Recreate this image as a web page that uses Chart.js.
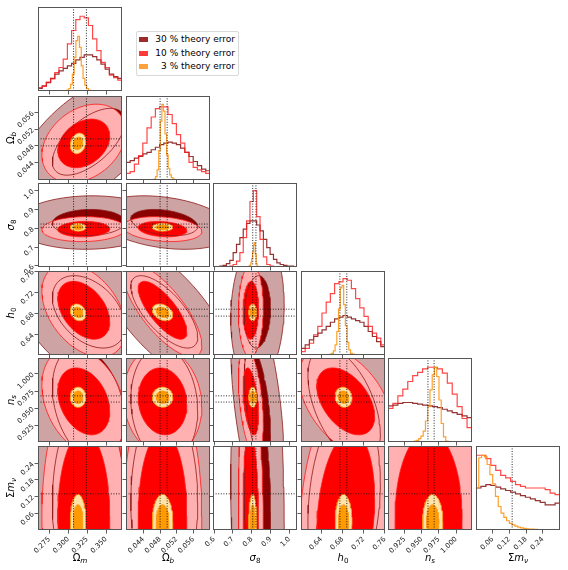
<!DOCTYPE html>
<html lang="en">
<head>
  <meta charset="UTF-8">
  <title>corner plot - chart.js</title>
  <script src="https://cdn.jsdelivr.net/npm/chart.js@4.4.1/dist/chart.umd.min.js"></script>
  <style>
    body { margin: 0; background: #fff; }
    #fig { position: relative; width: 568px; height: 570px; overflow: hidden; font-family: "DejaVu Sans", sans-serif; }
    #fig canvas { position: absolute; }
    .lab { position: absolute; font-size: 10px; color: #000; white-space: nowrap; transform: translate(-50%, -50%); }
    .lab.y { transform: translate(-50%, -50%) rotate(-90deg); }
    .lab sub { font-size: 72%; vertical-align: -0.3em; line-height: 0; }
    #legend { position: absolute; left: 136px; top: 31px; width: 101px; height: 43px; border: 1px solid #d9d9d9; border-radius: 2px; background: #fff; font-size: 9px; }
    #legend .row { position: absolute; left: 0; right: 3px; height: 12px; }
    #legend .sw { position: absolute; left: 2px; top: 4px; width: 9px; height: 4.5px; }
    #legend .tx { position: absolute; right: 0; top: 0; line-height: 12px; white-space: pre; }
  </style>
</head>
<body>
<div id="fig">
  <div id="legend">
    <div class="row" style="top:1px"><span class="sw" style="background:#9e2b2b"></span><span class="tx">30 % theory error</span></div>
    <div class="row" style="top:15px"><span class="sw" style="background:#ff3a3a"></span><span class="tx">10 % theory error</span></div>
    <div class="row" style="top:28px"><span class="sw" style="background:#ffa23a"></span><span class="tx">3 % theory error</span></div>
  </div>
</div>

<script>
  // parameters: Om, Ob, s8, h0, ns, mnu
  var NAMES = ['Ω<sub><i>m</i></sub>', 'Ω<sub><i>b</i></sub>', '<i>σ</i><sub>8</sub>', '<i>h</i><sub>0</sub>', '<i>n</i><sub><i>s</i></sub>', 'Σ<i>m</i><sub><i>ν</i></sub>']
  var LO = [0.26, 0.0398, 0.594, 0.6015, 0.901, 0.0]
  var HI = [0.371, 0.0600, 1.040, 0.7602, 1.023, 0.302]
  var TICKS = [
    [0.275, 0.300, 0.325, 0.350],
    [0.044, 0.048, 0.052, 0.056],
    [0.6, 0.7, 0.8, 0.9, 1.0],
    [0.64, 0.68, 0.72, 0.76],
    [0.925, 0.950, 0.975, 1.000],
    [0.06, 0.12, 0.18, 0.24]
  ]
  var DEC = [3, 3, 1, 2, 3, 2]
  var TRUTH = [[0.307, 0.324], [0.0480, 0.0497], [0.805, 0.822], [0.675, 0.688], [0.959, 0.968], [0.13]]

  // 2d posteriors: centre, width and correlation
  var MEAN_30 = [0.327, 0.0490, 0.830, 0.683, 0.955, 0.10]
  var SD_30 = [0.040, 0.0067, 0.058, 0.057, 0.070, 0.30]
  var RHO_30 = [[], [0.6], [0.05, -0.3], [-0.4, -0.7, 0.1], [-0.3, -0.1, -0.5, -0.5], [0, 0, -0.1, 0.2, 0]]
  var MEAN_10 = [0.3205, 0.0486, 0.795, 0.686, 0.960, 0.05]
  var SD_10 = [0.0226, 0.00385, 0.027, 0.036, 0.032, 0.20]
  var RHO_10 = [[], [0.3], [0.05, -0.2], [-0.4, -0.75, 0.05], [-0.3, -0.1, -0.4, -0.45], [0, 0, -0.1, 0.2, 0]]
  var MEAN_3 = [0.313, 0.0486, 0.805, 0.682, 0.966, 0.03]
  var SD_3 = [0.0042, 0.00101, 0.0085, 0.0065, 0.006, 0.04]
  var RHO_3 = [[], [0.2], [0, 0], [-0.2, -0.3, 0], [0, 0, 0, -0.1], [0, 0, 0, 0, 0]]
  var LEVELS_30 = [1.2, 2.45]
  var LEVELS = [1.52, 2.45]

  // 1d histograms (fraction of panel height), 30 % and 10 % over the full axis range
  var HIST30 = [
    [0.03, 0.06, 0.10, 0.15, 0.20, 0.24, 0.27, 0.30, 0.33, 0.37, 0.40, 0.43, 0.43, 0.41, 0.37, 0.32, 0.26, 0.20, 0.17, 0.15],
    [0.21, 0.23, 0.26, 0.28, 0.31, 0.33, 0.36, 0.39, 0.42, 0.44, 0.45, 0.44, 0.42, 0.38, 0.33, 0.28, 0.22, 0.17, 0.13, 0.11],
    [0, 0.005, 0.01, 0.02, 0.04, 0.08, 0.17, 0.27, 0.35, 0.45, 0.52, 0.55, 0.55, 0.50, 0.43, 0.33, 0.23, 0.15, 0.09, 0.05, 0.03, 0.02, 0.01, 0.01, 0.005],
    [0.08, 0.12, 0.18, 0.22, 0.26, 0.30, 0.34, 0.39, 0.43, 0.45, 0.47, 0.45, 0.43, 0.41, 0.39, 0.34, 0.28, 0.22, 0.16, 0.10],
    [0.43, 0.44, 0.46, 0.47, 0.47, 0.46, 0.45, 0.44, 0.43, 0.42, 0.41, 0.39, 0.37, 0.35, 0.33, 0.31, 0.29],
    [0.50, 0.52, 0.54, 0.53, 0.51, 0.49, 0.47, 0.45, 0.43, 0.41, 0.39, 0.37, 0.35, 0.33, 0.30, 0.30, 0.32]
  ]
  var HIST10 = [
    [0.04, 0.055, 0.105, 0.145, 0.22, 0.28, 0.38, 0.56, 0.72, 0.85, 0.89, 0.87, 0.78, 0.62, 0.48, 0.34, 0.28, 0.19, 0.16, 0.13],
    [0.08, 0.10, 0.19, 0.29, 0.44, 0.62, 0.75, 0.85, 0.87, 0.87, 0.78, 0.67, 0.54, 0.44, 0.33, 0.21, 0.15, 0.12, 0.10, 0.08],
    [0, 0, 0, 0, 0.005, 0.01, 0.03, 0.07, 0.17, 0.35, 0.55, 0.78, 0.91, 0.60, 0.33, 0.12, 0.03, 0.01, 0, 0, 0, 0, 0, 0, 0],
    [0.04, 0.08, 0.14, 0.24, 0.34, 0.50, 0.63, 0.73, 0.85, 0.87, 0.91, 0.89, 0.79, 0.67, 0.56, 0.46, 0.34, 0.26, 0.20, 0.12],
    [0.40, 0.46, 0.55, 0.63, 0.72, 0.79, 0.83, 0.87, 0.89, 0.89, 0.87, 0.82, 0.70, 0.57, 0.42, 0.28, 0.17],
    [0.89, 0.89, 0.85, 0.77, 0.71, 0.65, 0.62, 0.58, 0.54, 0.52, 0.50, 0.50, 0.50, 0.50, 0.48, 0.44, 0.42]
  ]
  // 3 % histograms have their own, narrower bin range
  var HIST3_LO = [0.2983, 0.04653, 0.785, 0.6562, 0.9358, 0.0]
  var HIST3_HI = [0.3313, 0.05183, 0.833, 0.7015, 0.9881, 0.30]
  var HIST3 = [
    [0.01, 0.03, 0.08, 0.20, 0.40, 0.60, 0.65, 0.52, 0.30, 0.15, 0.07, 0.03, 0.01, 0.0],
    [0.01, 0.04, 0.12, 0.35, 0.70, 0.90, 0.82, 0.55, 0.30, 0.14, 0.06, 0.03, 0.01, 0.005],
    [0.01, 0.02, 0.05, 0.10, 0.18, 0.26, 0.29, 0.15, 0.04, 0.01],
    [0.01, 0.02, 0.05, 0.12, 0.28, 0.55, 0.80, 0.83, 0.60, 0.35, 0.15, 0.06, 0.02, 0.01],
    [0.0, 0.01, 0.02, 0.04, 0.07, 0.13, 0.25, 0.42, 0.62, 0.80, 0.89, 0.78, 0.50, 0.22, 0.06, 0.01],
    [0.50, 0.86, 0.89, 0.87, 0.78, 0.66, 0.55, 0.40, 0.28, 0.20, 0.15, 0.11, 0.08, 0.06, 0.045, 0.035, 0.025, 0.02, 0.015, 0.012, 0.01, 0.008, 0.006, 0.005, 0.004, 0.003, 0.002, 0.002, 0.001, 0.001]
  ]

  // layout + styles
  var COL_LEFT = [38, 126, 213, 301, 388, 476]
  var ROW_TOP = [7, 96, 183, 271, 358, 446]
  var SIZE = 84
  var SETS = [
    { mean: MEAN_30, sd: SD_30, rho: RHO_30, levels: LEVELS_30, fill: ['#cda3a3', '#8b0000'], line: '#8b1a1a', hist: 'rgba(130,15,15,0.85)' },
    { mean: MEAN_10, sd: SD_10, rho: RHO_10, levels: LEVELS, fill: ['#ffb0b0', '#ff0000'], line: '#ff1a1a', hist: 'rgba(255,25,25,0.8)' },
    { mean: MEAN_3, sd: SD_3, rho: RHO_3, levels: LEVELS, fill: ['#ffe3a6', '#ff9a00'], line: '#ff9a1a', hist: 'rgba(255,150,20,0.9)' }
  ]

  var fig = document.getElementById('fig')

  function ellipse(mx, my, sx, sy, rho, r) {
    var pts = []
    var c = Math.sqrt(1 - rho * rho)
    for (var k = 0; k <= 72; k++) {
      var t = k / 72 * 2 * Math.PI
      var u = Math.cos(t), v = Math.sin(t)
      pts.push({ x: mx + r * sx * u, y: my + r * sy * (rho * u + c * v) })
    }
    return pts
  }

  function area(pts, color) {
    return { data: pts, fill: 'shape', backgroundColor: color, borderColor: 'rgba(0,0,0,0)', borderWidth: 0, pointRadius: 0, tension: 0 }
  }
  function edge(pts, color, w) {
    return { data: pts, fill: false, borderColor: color, borderWidth: w || 0.8, pointRadius: 0, tension: 0 }
  }

  function steps(lo, hi, vals) {
    var n = vals.length, w = (hi - lo) / n
    var pts = [{ x: lo, y: 0 }]
    for (var k = 0; k < n; k++) pts.push({ x: lo + k * w, y: vals[k] })
    pts.push({ x: hi, y: vals[n - 1] })
    pts.push({ x: hi, y: 0 })
    return pts
  }

  function histSets(p) {
    var out = []
    out.push(Object.assign(edge(steps(LO[p], HI[p], HIST30[p]), SETS[0].hist, 1.2), { stepped: true }))
    out.push(Object.assign(edge(steps(LO[p], HI[p], HIST10[p]), SETS[1].hist, 1.2), { stepped: true }))
    out.push(Object.assign(edge(steps(HIST3_LO[p], HIST3_HI[p], HIST3[p]), SETS[2].hist, 1.2), { stepped: true }))
    return out
  }

  function contourSets(i, j) {
    var fills = [], lines = []
    SETS.forEach(function (s) {
      var outer = ellipse(s.mean[j], s.mean[i], s.sd[j], s.sd[i], s.rho[i][j], s.levels[1])
      var inner = ellipse(s.mean[j], s.mean[i], s.sd[j], s.sd[i], s.rho[i][j], s.levels[0])
      fills.push(area(outer, s.fill[0]), area(inner, s.fill[1]))
      lines.push(edge(outer, s.line), edge(inner, s.line))
    })
    return fills.concat(lines)
  }

  function truthLine(a, b) {
    return { data: [a, b], fill: false, borderColor: '#111', borderWidth: 0.9, borderDash: [1, 1.6], pointRadius: 0 }
  }

  function scaleOpts(p, labels, horiz, fitSize) {
    return {
      type: 'linear',
      min: LO[p],
      max: HI[p],
      border: { display: false },
      grid: { display: true, drawOnChartArea: false, drawTicks: true, tickLength: 3.5, tickWidth: 0.8, tickColor: '#333' },
      ticks: {
        display: labels, autoSkip: false, minRotation: 45, maxRotation: 45, padding: 1.5,
        font: { family: 'DejaVu Sans', size: 7 }, color: '#222',
        callback: function (v) { return Number(v).toFixed(DEC[p]) }
      },
      afterBuildTicks: function (s) { s.ticks = TICKS[p].map(function (v) { return { value: v } }) },
      afterFit: function (s) {
        if (horiz) s.height = fitSize; else s.width = fitSize
        s.paddingLeft = 0; s.paddingRight = 0; s.paddingTop = 0; s.paddingBottom = 0
      }
    }
  }

  var framePlugin = {
    id: 'frame',
    afterDraw: function (c) {
      var a = c.chartArea, ctx = c.ctx
      ctx.save()
      ctx.strokeStyle = '#555'
      ctx.lineWidth = 1
      ctx.strokeRect(a.left + 0.5, a.top + 0.5, a.right - a.left - 1, a.bottom - a.top - 1)
      ctx.restore()
    }
  }

  function makePanel(i, j) {
    var diag = i === j
    var padL = (j === 0 && !diag) ? 36 : 14
    var padB = i === 5 ? 34 : 6
    var padT = 8, padR = 6
    var canvas = document.createElement('canvas')
    canvas.width = SIZE + padL + padR
    canvas.height = SIZE + padT + padB
    canvas.style.left = (COL_LEFT[j] - padL) + 'px'
    canvas.style.top = (ROW_TOP[i] - padT) + 'px'
    fig.appendChild(canvas)

    var sets = diag ? histSets(j) : contourSets(i, j)
    TRUTH[j].forEach(function (v) {
      sets.push(truthLine({ x: v, y: diag ? 0 : LO[i] }, { x: v, y: diag ? 1 : HI[i] }))
    })
    if (!diag) {
      TRUTH[i].forEach(function (v) {
        sets.push(truthLine({ x: LO[j], y: v }, { x: HI[j], y: v }))
      })
    }
    // first dataset is drawn on top in chart.js
    sets.reverse()

    var yScale = diag
      ? { type: 'linear', display: false, min: 0, max: 1 }
      : scaleOpts(i, j === 0, false, padL)

    new Chart(canvas, {
      type: 'line',
      data: { datasets: sets },
      options: {
        responsive: false,
        animation: false,
        devicePixelRatio: 1,
        events: [],
        layout: { padding: { left: diag ? padL : 0, top: padT, right: padR, bottom: 0 } },
        plugins: { legend: { display: false }, tooltip: { enabled: false } },
        scales: { x: scaleOpts(j, i === 5, true, padB), y: yScale }
      },
      plugins: [framePlugin]
    })
  }

  for (var i = 0; i < 6; i++) {
    for (var j = 0; j <= i; j++) makePanel(i, j)
  }

  // axis titles
  NAMES.forEach(function (name, p) {
    var xl = document.createElement('div')
    xl.className = 'lab'
    xl.innerHTML = name
    xl.style.left = (COL_LEFT[p] + SIZE / 2) + 'px'
    xl.style.top = '557px'
    fig.appendChild(xl)
    if (p > 0) {
      var yl = document.createElement('div')
      yl.className = 'lab y'
      yl.innerHTML = name
      yl.style.left = '10px'
      yl.style.top = (ROW_TOP[p] + SIZE / 2) + 'px'
      fig.appendChild(yl)
    }
  })
</script>
</body>
</html>
